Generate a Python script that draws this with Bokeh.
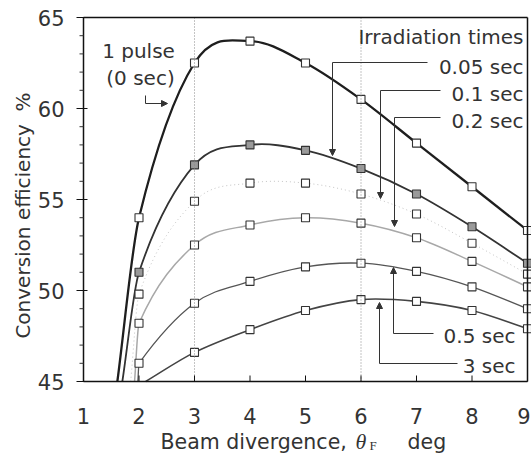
from math import pi
from bokeh.plotting import figure
from bokeh.models import Label, Arrow, NormalHead, Range1d, ColumnDataSource
from bokeh.embed import file_html
from bokeh.resources import INLINE

# ---------------- data ----------------
divergence = [2, 3, 4, 5, 6, 7, 8, 9]
pulse_1 = [54.0, 62.5, 63.7, 62.5, 60.5, 58.1, 55.7, 53.3]
sec_005 = [51.0, 56.9, 58.0, 57.7, 56.7, 55.3, 53.5, 51.5]
sec_01 = [49.8, 54.9, 55.9, 55.9, 55.3, 54.2, 52.6, 50.9]
sec_02 = [48.2, 52.5, 53.6, 54.0, 53.7, 52.9, 51.6, 50.2]
sec_05 = [46.0, 49.3, 50.5, 51.3, 51.5, 51.05, 50.2, 49.0]
divergence_3s = [3, 4, 5, 6, 7, 8, 9]
sec_3 = [46.6, 47.85, 48.9, 49.5, 49.4, 48.9, 47.9]
# where each curve leaves the bottom of the chart (y = 45)
low_cross = {"1p": 1.61, "005": 1.70, "01": 1.85, "02": 1.92, "05": 1.98, "3": 2.12}

x_ticks = [1, 2, 3, 4, 5, 6, 7, 8, 9]
y_ticks = [45, 50, 55, 60, 65]
y_minor = list(range(45, 66))
X_MIN, X_MAX, Y_MIN, Y_MAX = 1, 9, 45, 65
FONT = "DejaVu Sans"
TXT = "#333"

# layout (pixels): plot box inside the 531x459 canvas
W, H = 531, 459
BOX_L, BOX_R, BOX_T, BOX_B = 83, 527, 17, 381
ux = (BOX_R - BOX_L) / (X_MAX - X_MIN)
uy = (BOX_B - BOX_T) / (Y_MAX - Y_MIN)


def X(px):
    return X_MIN + (px - BOX_L) / ux


def Y(py):
    return Y_MIN + (BOX_B - py) / uy


def hermite_source(xs, ys):
    n = len(xs)
    m = []
    for i in range(n):
        if i == 0:
            m.append((ys[1] - ys[0]) / (xs[1] - xs[0]))
        elif i == n - 1:
            m.append((ys[-1] - ys[-2]) / (xs[-1] - xs[-2]))
        else:
            m.append((ys[i + 1] - ys[i - 1]) / (xs[i + 1] - xs[i - 1]))
    d = dict(x0=[], y0=[], x1=[], y1=[], cx0=[], cy0=[], cx1=[], cy1=[])
    for i in range(n - 1):
        dx = xs[i + 1] - xs[i]
        d["x0"].append(xs[i]); d["y0"].append(ys[i])
        d["x1"].append(xs[i + 1]); d["y1"].append(ys[i + 1])
        d["cx0"].append(xs[i] + dx / 3); d["cy0"].append(ys[i] + m[i] * dx / 3)
        d["cx1"].append(xs[i + 1] - dx / 3); d["cy1"].append(ys[i + 1] - m[i + 1] * dx / 3)
    return ColumnDataSource(d)


p = figure(width=W, height=H, x_range=Range1d(X(0), X(W)), y_range=Range1d(Y(H), Y(0)),
           output_backend="svg", toolbar_location=None,
           x_axis_location=None, y_axis_location=None,
           min_border_left=0, min_border_right=0, min_border_top=0, min_border_bottom=0)
p.background_fill_color = "white"
p.border_fill_color = "white"
p.outline_line_color = None
p.xgrid.visible = False
p.ygrid.visible = False


def seg(xa, ya, xb, yb, color="#111", width=1.5, dash="solid"):
    p.add_layout(Arrow(end=None, x_start=xa, y_start=ya, x_end=xb, y_end=yb,
                       line_color=color, line_width=width, line_dash=dash))


def txt(x, y, t, align="right", size="20px", font=FONT, style="normal", angle=0.0):
    p.add_layout(Label(x=x, y=y, text=t, text_align=align, text_baseline="middle",
                       text_font=font, text_font_style=style, text_font_size=size,
                       text_color=TXT, angle=angle))


# dotted guides at x = 3 and 6
for gx in (3, 6):
    seg(gx, Y_MIN, gx, Y_MAX, color="#888", width=1, dash="1 2")

# box
seg(X_MIN, Y_MIN, X_MAX, Y_MIN)
seg(X_MIN, Y_MIN, X_MIN, Y_MAX)
seg(X_MIN, Y_MAX, X_MAX, Y_MAX)
seg(X_MAX, Y_MIN, X_MAX, Y_MAX)

# ticks and tick labels
for t in x_ticks:
    seg(t, Y_MIN, t, Y_MIN + 6 / uy, width=1)
    if t == x_ticks[-1]:
        txt(X(W - 1), Y_MIN - 34 / uy, str(t), align="right", size="21px")
    else:
        txt(t, Y_MIN - 34 / uy, str(t), align="center", size="21px")
for t in y_minor:
    seg(X_MIN - 4 / ux, t, X_MIN, t, color="#333", width=1)
for t in y_ticks:
    seg(X_MIN - 7 / ux, t, X_MIN + 4 / ux, t, width=1)
    txt(X_MIN - 19 / ux, t, str(t), align="right", size="21px")

# curves
series = [
    ("1p", divergence, pulse_1, "#1e1e1e", 2.3, "solid", "white"),
    ("005", divergence, sec_005, "#333333", 1.8, "solid", "#9a9a9a"),
    ("01", divergence, sec_01, "#c4c4c4", 1.0, "1 3", "white"),
    ("02", divergence, sec_02, "#a8a8a8", 1.5, "solid", "white"),
    ("05", divergence, sec_05, "#555555", 1.3, "solid", "white"),
    ("3", divergence_3s, sec_3, "#444444", 1.6, "solid", "white"),
]
for key, xs, ys, col, lw, dash, fill in series:
    src = hermite_source([low_cross[key]] + list(xs), [45.0] + list(ys))
    p.bezier(x0="x0", y0="y0", x1="x1", y1="y1", cx0="cx0", cy0="cy0", cx1="cx1", cy1="cy1",
             source=src, line_color=col, line_width=lw, line_dash=dash)
for key, xs, ys, col, lw, dash, fill in series:
    p.scatter(xs, ys, marker="square", size=8, fill_color=fill, line_color="#333", line_width=1.1)

# axis titles
txt(X(22), Y(215), "Conversion efficiency\u00a0\u00a0%", align="center", angle=pi / 2)
txt(X(160), Y(441), "Beam divergence,", align="left", size="20.5px")
txt(X(355), Y(441), "θ", align="left", size="22px", font="Liberation Serif", style="italic")
txt(X(369), Y(445), "F", align="left", size="13px", font="Liberation Serif")
txt(X(407), Y(441), "deg", align="left", size="20.5px")


def leader(xa, ya, xb, yb, xc, yc):
    seg(xa, ya, xb, yb, color="#333", width=1)
    p.add_layout(Arrow(end=NormalHead(size=6, fill_color="#333", line_color="#333", line_width=1),
                       x_start=xb, y_start=yb, x_end=xc, y_end=yc, line_color="#333", line_width=1))


# annotations
txt(X(138), Y(50), "1 pulse", "center")
txt(X(140), Y(77), "(0 sec)", "center")
leader(X(145), Y(95), X(145), Y(103), X(167), Y(103))

txt(X(523), Y(36), "Irradiation times")
txt(X(523), Y(66), "0.05 sec")
leader(X(427), Y(62), X(332), Y(62), X(332), Y(155))
txt(X(523), Y(93), "0.1 sec")
leader(X(440), Y(90), X(380), Y(90), X(380), Y(198))
txt(X(523), Y(120), "0.2 sec")
leader(X(440), Y(117), X(394), Y(117), X(394), Y(226))
txt(X(515), Y(335), "0.5 sec")
leader(X(433), Y(333), X(393), Y(333), X(393), Y(267))
txt(X(515), Y(365), "3 sec")
leader(X(457), Y(363), X(379), Y(363), X(379), Y(302))

open("out.html", "w").write(file_html(p, INLINE))
